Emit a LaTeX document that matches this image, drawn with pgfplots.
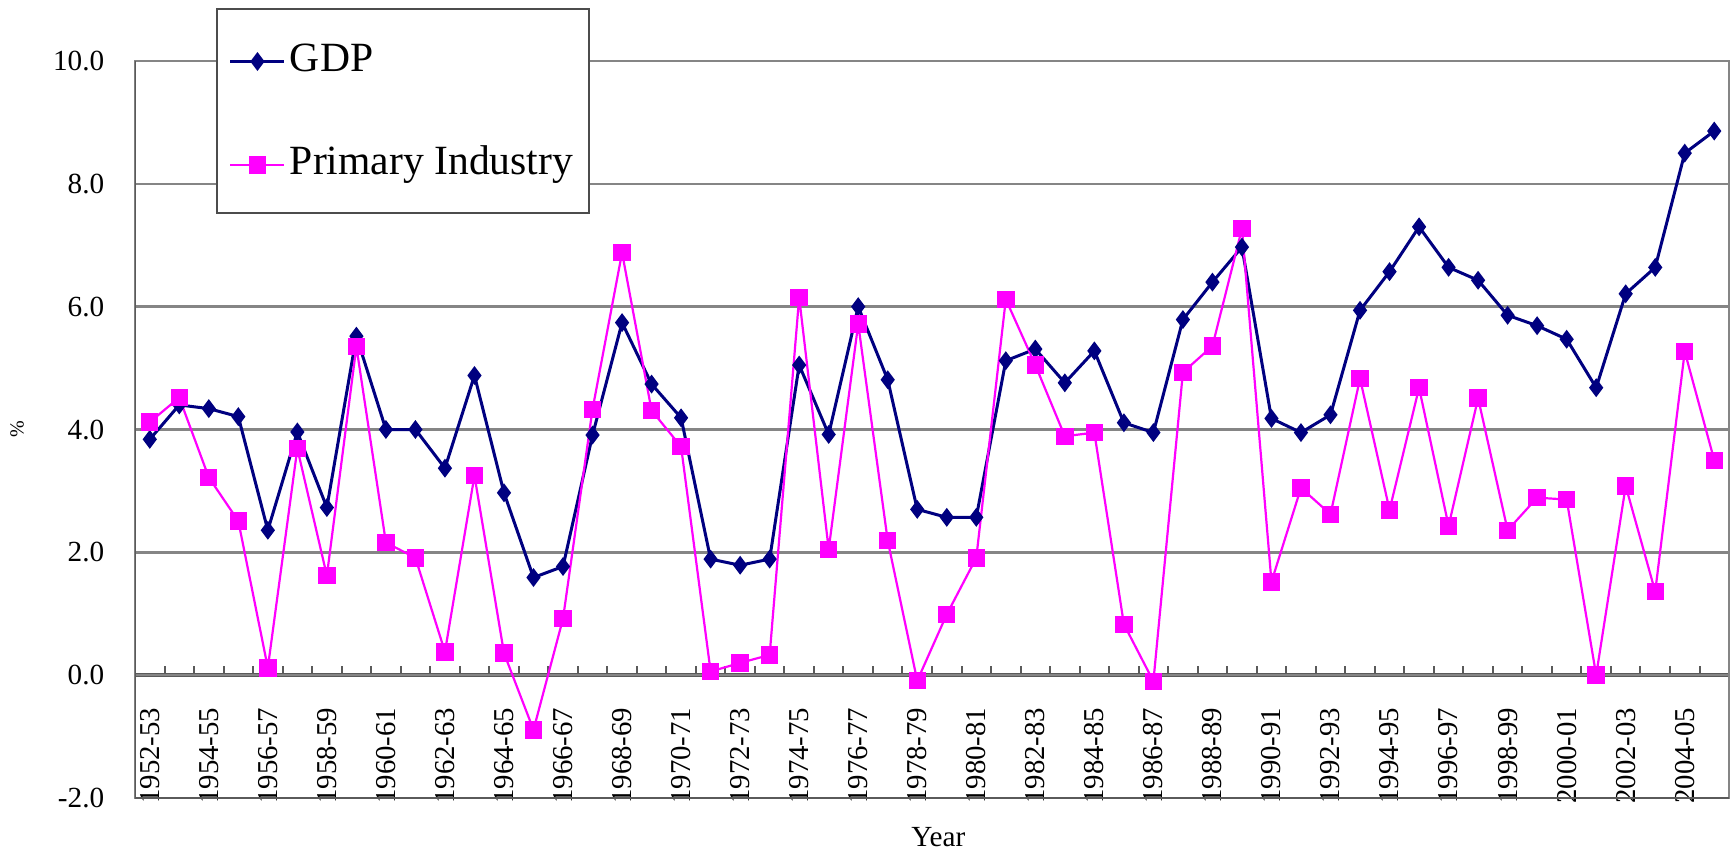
\documentclass[border=0pt]{standalone}
\usepackage{pgfplots}
\pgfplotsset{compat=1.18}
\usepackage{pgfplotstable}
\usepackage{fontspec}
\setmainfont{Liberation Serif}
\definecolor{gdpc}{HTML}{000080}
\definecolor{primc}{HTML}{FF00FF}
\definecolor{gridc}{HTML}{858585}
\definecolor{axc}{HTML}{5A5A5A}

\pgfplotstableread{
x gdp prim
1 3.84 4.12
2 4.40 4.52
3 4.34 3.22
4 4.21 2.51
5 2.36 0.12
6 3.96 3.69
7 2.73 1.62
8 5.52 5.35
9 4.00 2.16
10 4.00 1.91
11 3.37 0.38
12 4.88 3.25
13 2.97 0.36
14 1.59 -0.89
15 1.77 0.92
16 3.91 4.33
17 5.74 6.88
18 4.74 4.31
19 4.19 3.72
20 1.89 0.06
21 1.79 0.20
22 1.89 0.33
23 5.05 6.15
24 3.92 2.05
25 6.00 5.72
26 4.81 2.19
27 2.70 -0.09
28 2.57 0.99
29 2.57 1.91
30 5.12 6.12
31 5.31 5.05
32 4.76 3.89
33 5.28 3.95
34 4.11 0.83
35 3.95 -0.10
36 5.79 4.93
37 6.40 5.36
38 6.97 7.27
39 4.18 1.52
40 3.95 3.05
41 4.24 2.62
42 5.94 4.83
43 6.57 2.69
44 7.30 4.68
45 6.64 2.43
46 6.43 4.51
47 5.86 2.36
48 5.69 2.89
49 5.47 2.86
50 4.68 0.00
51 6.21 3.08
52 6.64 1.36
53 8.50 5.27
54 8.86 3.50
}\datatable

\begin{document}
\begin{tikzpicture}
% x axis at zero with category labels
\begin{axis}[
  scale only axis, width=398.5pt, height=184.25pt,
  xmin=0.5, xmax=54.5, ymin=-2, ymax=10,
  axis x line=middle, axis y line=none,
  x axis line style={-, draw=axc, line width=0.9pt},
  xtick={1,3,...,53},
  xticklabels={1952-53,1954-55,1956-57,1958-59,1960-61,1962-63,1964-65,1966-67,1968-69,1970-71,1972-73,1974-75,1976-77,1978-79,1980-81,1982-83,1984-85,1986-87,1988-89,1990-91,1992-93,1994-95,1996-97,1998-99,2000-01,2002-03,2004-05},
  major x tick style={draw=none},
  minor xtick={1.5,2.5,...,53.5},
  minor tick length=2.3pt,
  tick align=center,
  minor x tick style={draw=axc, line width=0.5pt, yshift=1.15pt},
  ytick=\empty,
  xticklabel style={rotate=90, anchor=east, inner sep=0pt, font=\fontsize{7.2}{8}\selectfont},
  xticklabel shift=5.8pt,
]
\end{axis}
% frame, grid, data
\begin{axis}[
  scale only axis, width=398.5pt, height=184.25pt,
  xmin=0.5, xmax=54.5, ymin=-2, ymax=10,
  axis line style={draw=gridc, line width=0.6pt},
  xtick=\empty,
  ytick={-2,0,...,10},
  yticklabels={-2.0,0.0,2.0,4.0,6.0,8.0,10.0},
  ymajorgrids,
  major grid style={draw=gridc, line width=0.6pt},
  major tick length=0pt,
  yticklabel style={inner sep=0pt, xshift=-7.5pt, font=\fontsize{7.3}{8}\selectfont},
  xlabel={Year},
  xlabel style={at={(axis description cs:0.504,0)}, anchor=center, yshift=-9.75pt, font=\fontsize{7.3}{8}\selectfont},
  ylabel={\%},
  ylabel style={at={(axis description cs:-0.074,0.5)}, anchor=center, font=\fontsize{5}{6}\selectfont},
  legend style={at={(axis description cs:0.0508,1.072)}, anchor=north west,
    draw=black!70, line width=0.5pt, fill=white, inner xsep=3pt, inner ysep=7.8pt,
    row sep=16.4pt, font=\fontsize{10.4}{12}\selectfont,
    nodes={inner xsep=1pt, inner ysep=0pt, text height=7.8pt, text depth=1.7pt}},
  legend cell align=left,
  legend image code/.code={\draw[mark repeat=2,mark phase=2] plot coordinates {(0pt,-0.6pt) (6.75pt,-0.6pt) (13.5pt,-0.6pt)};},
]
\draw[axc, line width=0.7pt] (rel axis cs:0,0) -- (rel axis cs:0,1);
\draw[axc, line width=0.7pt] (rel axis cs:0,0) -- (rel axis cs:1,0);
\coordinate (sw) at (rel axis cs:0,0);
\coordinate (ne) at (rel axis cs:1,1);
\addplot[color=gdpc, line width=0.75pt, mark=diamond*, mark size=1.75pt, mark options={fill=gdpc}] table[x=x, y=gdp] {\datatable};
\addlegendentry{GDP}
\addplot[color=primc, line width=0.55pt, mark=square*, mark size=1.9pt, mark options={fill=primc}] table[x=x, y=prim] {\datatable};
\addlegendentry{Primary Industry}
\end{axis}
\pgfresetboundingbox
\path ([xshift=-33.75pt,yshift=-12.75pt]sw) rectangle ([xshift=0.75pt,yshift=15.25pt]ne);
\end{tikzpicture}
\end{document}
